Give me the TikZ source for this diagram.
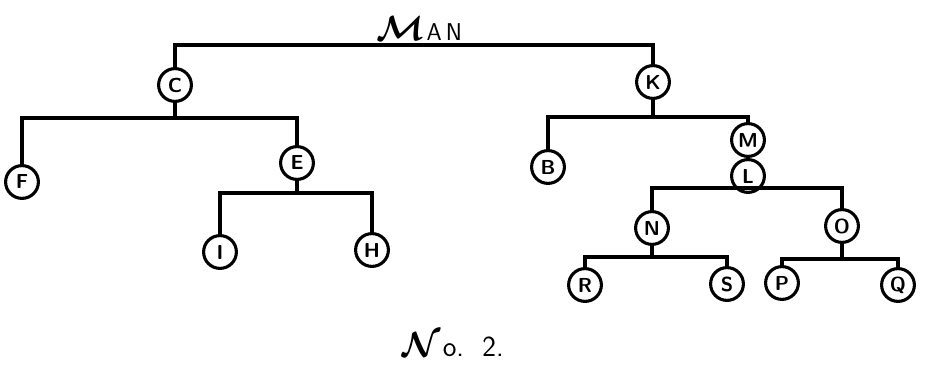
\documentclass[tikz,border=0pt]{standalone}
\usepackage{amsmath,amssymb}
\usepackage{tikz}

\begin{document}
\begin{tikzpicture}[x=0.25mm, y=-0.25mm, line width=2.2pt,
    person/.style={draw, circle, line width=2.2pt, minimum size=8.2mm, inner sep=0pt, font=\Large\sffamily\bfseries}]
    \useasboundingbox (0,0) rectangle (925,375);

    % --- title ---
    \node (man) at (419,29) {{\Huge$\boldsymbol{\mathcal{M}}$}\,{\LARGE\sffamily A\,N}};
    \coordinate (top) at (419,45);

    % --- left branch ---
    \node[person] (c) at (175,85) {C};
    \node[person] (f) at (22,182) {F};
    \node[person] (e) at (297,163) {E};
    \node[person] (i) at (220,252) {I};
    \node[person] (h) at (372,250) {H};
    \coordinate (cbar) at (175,118);
    \coordinate (ebar) at (297,193);

    % --- right branch ---
    \node[person] (k) at (653,82) {K};
    \node[person] (b) at (548,167) {B};
    \node[person] (m) at (748,140) {M};
    \node[person] (l) at (748,176) {L};
    \node[person] (n) at (652,228) {N};
    \node[person] (o) at (842,226) {O};
    \node[person] (r) at (585,285) {R};
    \node[person] (s) at (727,284) {S};
    \node[person] (p) at (782,283) {P};
    \node[person] (q) at (898,285) {Q};
    \coordinate (kbar) at (653,117);
    \coordinate (lbar) at (748,188);
    \coordinate (nbar) at (652,257);
    \coordinate (obar) at (842,259);

    % --- connectors ---
    \draw (c) |- (top) -| (k);
    \draw (c) -- (cbar);
    \draw (f) |- (cbar) -| (e);
    \draw (e) -- (ebar);
    \draw (i) |- (ebar) -| (h);
    \draw (k) -- (kbar);
    \draw (b) |- (kbar) -| (m);
    \draw (n) |- (lbar) -| (o);
    \draw (n) -- (nbar);
    \draw (r) |- (nbar) -| (s);
    \draw (o) -- (obar);
    \draw (p) |- (obar) -| (q);

    % --- caption ---
    \node (caption) at (453,345) {{\Huge$\boldsymbol{\mathcal{N}}$}\,{\huge\sffamily o.\ \ 2.}};
\end{tikzpicture}
\end{document}
